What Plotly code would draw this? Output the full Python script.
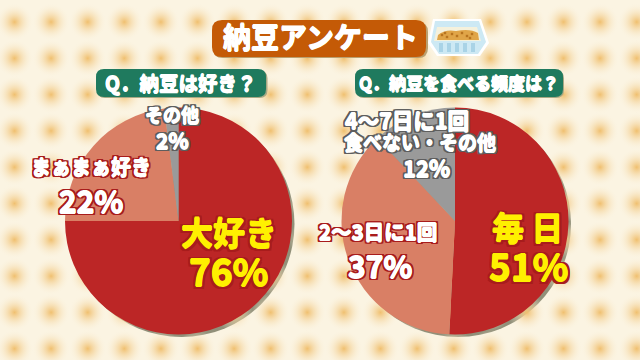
import plotly.graph_objects as go

# Slice shares as drawn in the picture, percentages as printed on it
left_names = ["大好き", "まぁまぁ好き", "その他"]
left_shares = [75, 23, 2]
left_printed = ["76%", "22%", "2%"]
right_names = ["毎 日", "2〜3日に1回", "4〜7日に1回", "食べない・その他"]
right_shares = [50.8, 37.2, 12]
right_printed = ["51%", "37%", "12%"]
slice_colors = ["#BC2626", "#D97F65", "#9A9A9A"]

title_text = "納豆アンケート"
q_left = "Q．納豆は好き？"
q_right = "Q．納豆を食べる頻度は？"
FONT = "Noto Sans CJK JP"
W, H = 640, 360

def heavy(color):
    return ",".join(f"{a}px {b}px 0 {color}" for a, b in [(0.6,0),(-0.6,0),(0,0.6),(0,-0.6)])

def outline(color, r=2):
    offs = [(r,0),(-r,0),(0,r),(0,-r),(r,r),(-r,r),(r,-r),(-r,-r),(r,1),(-r,1),(r,-1),(-r,-1),(1,r),(-1,r),(1,-r),(-1,-r)]
    return ",".join(f"{a}px {b}px 0 {color}" for a, b in offs)

def pie_domain(cx, cy, r):
    return dict(x=[(cx-r)/W, (cx+r)/W], y=[1-(cy+r)/H, 1-(cy-r)/H])

def pill(x0, y0, x1, y1, r):
    return (f"M{x0+r},{y0} L{x1-r},{y0} Q{x1},{y0} {x1},{y0+r} L{x1},{y1-r} Q{x1},{y1} {x1-r},{y1} "
            f"L{x0+r},{y1} Q{x0},{y1} {x0},{y1-r} L{x0},{y0+r} Q{x0},{y0} {x0+r},{y0} Z")

fig = go.Figure()

# wallpaper dots
gx, gy = [], []
for j in range(11):
    for i in range(19):
        gx.append(14.5 + i*36.6)
        gy.append(22 + j*36.3)
fig.add_trace(go.Scatter(x=gx, y=gy, mode="markers", hoverinfo="skip", showlegend=False,
    marker=dict(symbol="circle", size=38, color="rgba(251,244,226,0)", line=dict(width=0),
                gradient=dict(type="radial", color="#F0C070"))))

shapes = []
def add_path(path, fill, line=None, lw=0):
    shapes.append(dict(type="path", path=path, fillcolor=fill, xref="x", yref="y", layer="above",
                       line=dict(color=line or fill, width=lw)))

# pie drop shadows
for cx in (178.5, 455):
    shapes.append(dict(type="circle", xref="x", yref="y", layer="below", x0=cx-113+3, x1=cx+113+3,
                       y0=221-113+3, y1=221+113+3, fillcolor="#77775F", opacity=0.8, line=dict(width=0)))

# header pills
add_path(pill(213, 22, 428, 58, 10), "#B9A070")
add_path(pill(212, 20, 426, 57, 10), "#C45A06")
add_path(pill(97, 70.5, 267.5, 98, 8), "#A9A884")
add_path(pill(96, 69, 266, 97, 8), "#1F7A5E")
add_path(pill(356, 70.5, 564, 98, 8), "#A9A884")
add_path(pill(355, 69, 563, 97, 8), "#1F7A5E")

# natto tray icon
add_path("M433,19 L481,19 L489,43 L480,56 L437,56 L428,43 Z", "#FFFFFF")
add_path("M435,21 L479,21 L486,42 L478,54 L439,54 L431,42 Z", "#CDE9F4")
add_path("M437,27 L477,27 L481,41 L434,41 Z", "#F5F1DC")
add_path("M438,35 Q445,29 456,31 Q470,28 478,33 L479,40 L437,40 Z", "#E0A548")
for x, y in [(442,35),(447,37),(452,34),(457,36),(462,33),(467,36),(472,34),(445,33),(470,38)]:
    add_path(f"M{x-1.2},{y-1.2} L{x+1.2},{y-1.2} L{x+1.2},{y+1.2} L{x-1.2},{y+1.2} Z", "#B8741F")
for x in (441, 449, 457, 465, 473):
    add_path(f"M{x-2},43 L{x+2},43 L{x+2},52 L{x-2},52 Z", "#A9D3E6")

fig.add_trace(go.Pie(values=left_shares, labels=left_names, domain=pie_domain(178.5, 221, 113.5),
    sort=False, direction="clockwise", rotation=0, textinfo="none", hoverinfo="skip",
    showlegend=False, marker=dict(colors=slice_colors, line=dict(width=0))))
fig.add_trace(go.Pie(values=right_shares, labels=right_names[:2] + [right_names[3]], domain=pie_domain(455, 221, 113.5),
    sort=False, direction="clockwise", rotation=0, textinfo="none", hoverinfo="skip",
    showlegend=False, marker=dict(colors=slice_colors, line=dict(width=0))))

RED = "#A81C1C"
GREY = "#5E5E5E"
def label(text, x, y, size, color, edge, r=2):
    sh = heavy(color)
    if edge:
        sh += "," + outline(edge, r)
    return dict(text=f"<b>{text}</b>", x=x, y=y-2, xref="x", yref="y", showarrow=False, align="center",
                xanchor="center", yanchor="middle",
                font=dict(family=FONT, size=size, color=color, shadow=sh))

ann = [
    label(title_text, 320, 38, 28, "#FFFFFF", None),
    label(q_left, 181, 84, 19.5, "#FFFFFF", None),
    label(q_right, 459, 84, 17, "#FFFFFF", None),
    label(left_names[0], 229, 233, 32, "#FFF000", RED, 2.5),
    label(left_printed[0], 228, 272, 37, "#FFF000", RED, 2.5),
    label(left_names[1], 91, 168, 20, "#FFFFFF", RED),
    label(left_printed[1], 91, 202, 30, "#FFFFFF", RED),
    label(left_names[2], 172, 116, 18, "#FFFFFF", GREY),
    label(left_printed[2], 172, 142, 21, "#FFFFFF", GREY),
    label(right_names[0], 527, 228, 32, "#FFF000", RED, 2.5),
    label(right_printed[0], 528, 267, 37, "#FFF000", RED, 2.5),
    label(right_names[1], 378, 233, 20.5, "#FFFFFF", RED),
    label(right_printed[1], 380, 267, 30, "#FFFFFF", RED),
    label(right_names[2], 407, 121, 21.5, "#FFFFFF", GREY),
    label(right_names[3], 420, 143, 19, "#FFFFFF", GREY),
    label(right_printed[2], 426, 169, 22, "#FFFFFF", GREY),
]

fig.update_layout(width=W, height=H, margin=dict(l=0, r=0, t=0, b=0), autosize=False,
    paper_bgcolor="#FBF4E2", plot_bgcolor="rgba(0,0,0,0)", shapes=shapes, annotations=ann,
    xaxis=dict(range=[0, W], visible=False, fixedrange=True),
    yaxis=dict(range=[H, 0], visible=False, fixedrange=True), showlegend=False)
fig.write_html("out.html", config=dict(displayModeBar=False),
               default_width=f"{W}px", default_height=f"{H}px",
               post_script="document.body.style.margin='0';document.body.style.overflow='hidden';")
